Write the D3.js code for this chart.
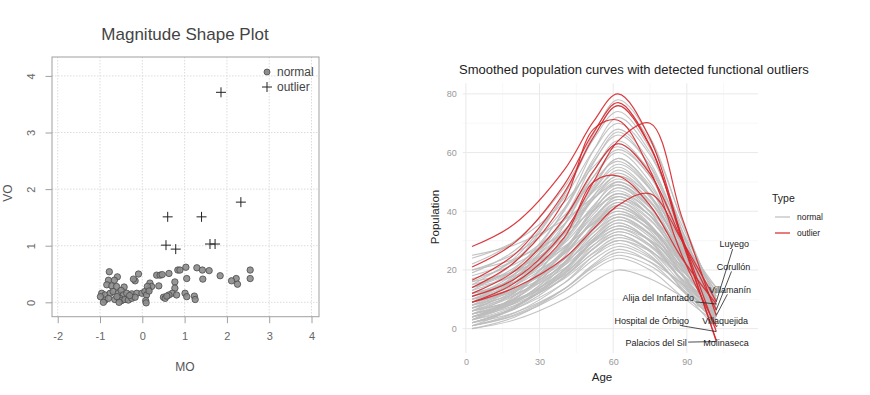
<!DOCTYPE html>
<html><head><meta charset="utf-8">
<script src="https://cdn.jsdelivr.net/npm/d3@7"></script>
<style>body{margin:0;background:#fff}svg{display:block;font-family:"Liberation Sans",Arial,sans-serif}</style>
</head><body><svg id="c" width="870" height="395"></svg>
<script>
// ---------- Left panel: Magnitude Shape Plot ----------
const normalMO = [-0.78,-0.59,-0.09,0.34,0.42,0.63,-0.80,-0.66,-0.17,-0.21,-0.84,-0.72,-0.61,-0.43,0.18,0.22,0.14,0.39,-0.96,-0.88,-0.76,-0.69,-0.57,-0.50,-0.45,-0.37,-0.25,-0.13,-0.01,0.06,0.10,-0.88,-0.80,-0.65,-0.53,-0.49,-0.41,-0.33,-0.25,-0.17,0.08,0.09,0.50,0.54,0.84,0.89,1.03,1.29,1.42,1.58,1.84,2.55,2.55,2.22,2.11,2.25,1.05,1.43,0.77,0.77,0.71,0.63,0.81,1.01,1.05,1.23,1.25,0.58,-0.99,-0.92,-0.55,0.12,0.16,-0.30,-0.60,0.47];
const normalVO = [0.54,0.45,0.50,0.48,0.48,0.51,0.39,0.39,0.38,0.41,0.31,0.29,0.28,0.27,0.34,0.28,0.23,0.29,0.16,0.13,0.16,0.19,0.16,0.21,0.13,0.16,0.15,0.16,0.16,0.19,0.13,0.04,0.07,0.05,0.07,0.03,0.05,0.04,0.07,0.09,0.03,-0.01,0.09,0.07,0.57,0.57,0.62,0.61,0.57,0.56,0.47,0.57,0.42,0.42,0.38,0.32,0.42,0.41,0.36,0.25,0.16,0.13,0.13,0.16,0.10,0.11,0.05,0.11,0.10,0.00,0.00,0.28,0.20,0.12,0.10,0.49];
const outlierMO = [1.86,2.33,0.60,1.40,0.56,0.79,1.60,1.72];
const outlierVO = [3.71,1.77,1.51,1.51,1.01,0.94,1.03,1.03];
const msTicksX = [-2,-1,0,1,2,3,4];
const msTicksY = [0,1,2,3,4];

// ---------- Right panel: smoothed curves ----------
const ages = [2.5,20,40,52,62,75,88,102];
const normalCurves = [
[0,3,10,16,20,17,11,4],[1,4.5,12.5,20,24,20,11,2],[2,5.5,13.5,21,25,21.4,13.4,5],[0,4,13.5,22,27,22.7,13,3],
[3,6.8,15.5,23.5,28,24,15.2,6],[5,8.6,17,24.7,29,24.5,14.5,4],[1,5.4,15.5,24.8,30,25,13.8,2],[4,8,17.5,26,31,26.7,17,7],
[6,9.9,19,27.3,32,26.8,15.2,3],[2,6.7,17.5,27.4,33,28,16.8,5],[8,11.8,20.5,28.5,33,28.5,18.5,8],[3,7.7,18.5,28.4,34,28.6,16.6,4],
[5,9.5,20,29.6,35,29.8,18.2,6],[10,13.8,22.5,30.5,35,30.3,19.9,9],[4,8.8,20,30.2,36,29.9,16.3,2],[7,11.5,22,31.6,37,31.2,18.4,5],
[2,7.4,20,31.5,38,32.4,20,7],[9,13.4,23.5,32.8,38,31.9,18.3,4],[12,16,25.5,34.1,39,33.8,22.2,10],[5,10.3,22.5,33.7,40,33.3,18.5,3],
[6,11.3,23.5,34.7,41,34.7,20.7,6],[14,18,27.5,36.1,41,35.1,21.9,8],[3,8.9,22.5,35,42,35.3,20.5,5],[8,13.3,25.5,36.7,43,35.6,19.2,2],
[11,16,27.5,38.1,44,37.3,22.5,7],[4,10.2,24.5,37.6,45,38.5,24.1,9],[7,12.9,26.5,39,46,38.4,21.6,4],[15,19.8,31,41.2,47,39.6,23.2,6],
[6,12.3,27,40.4,48,39.9,21.9,3],[10,15.9,29.5,42,49,41.6,25.2,8],[3,10,26.5,41.5,50,41.9,23.9,5],[13,18.7,32,44.2,51,43.6,27.2,10],
[8,14.6,30,44.1,52,43.4,24.2,4],[18,23.3,35.5,46.7,53,44.7,26.3,7],[5,12.4,29.5,45.2,54,45.4,26.2,6],[11,17.6,33,47.1,55,45.6,24.8,3],
[9,16,32.5,47.5,56,47.5,28.7,9],[20,25.6,38.5,50.3,57,47.6,26.8,5],[7,14.7,32.5,48.8,58,48.8,28.4,7],[14,20.9,37,51.7,60,49.9,27.5,4],
[10,17.7,35.5,51.8,61,52,32,11],[24,29.7,43,55.2,62,51.9,29.5,6],[6,14.7,35,53.6,64,53,28.6,3],[16,23.5,41,57,66,55.6,32.4,8],
[12,20.4,40,57.9,68,56.7,31.5,5],[19,26.7,44.5,60.8,70,59.2,35.2,10],[9,18.5,40.5,60.7,72,60.1,33.7,6],[22,29.8,48,64.6,74,61.4,33.4,4],
[15,24.2,45.5,65,76,64,37.1,9],[13,22.8,45.5,66.3,78,65.2,36.8,7],[1,4.8,13.5,21.5,26,22.8,15.6,8],[6,9.6,18,25.7,30,26.4,18.4,10],
[9,12.8,21.5,29.5,34,30,21.2,12],[2,7.3,19.5,30.7,37,32.1,21.3,10],[16,19.6,28,35.7,40,35,23.8,12],[1,7.3,22,35.4,43,36.9,23.3,9],
[12,17.1,29,39.9,46,40.1,26.9,13],[4,10.6,26,40.1,48,41.2,26,10],[17,22,33.5,44.1,50,43,27.4,11],[2,7.1,19,29.9,36,29.7,15.7,1],
[10,14.8,26,36.2,42,34.6,18.2,1],[4,9.3,21.5,32.7,39,34.1,23.3,12],[7,12.6,25.5,37.3,44,38.6,26.6,14],[20,23.8,32.5,40.5,45,38.5,24.1,9],
[3,11.3,30.5,48.1,58,47.9,25.5,2],[11,18.8,37,53.6,63,53.8,33.4,12],[8,16.9,37.5,56.4,67,55.3,29.3,2],[14,19.7,33,45.2,52,45.2,30,14],
[5,9,18.5,27.1,32,26.2,13.4,0],[25,28.6,37,44.7,49,41.3,24.1,6]
];
const outlierNames = ["Palacios del Sil","Molinaseca","Hospital de Órbigo","Villaquejida","Villamanín","Corullón","Alija del Infantado","Luyego"];
const outlierCurves = [
[28,35.8,54,70.6,80,64.8,31,-4.4],
[21,29.4,49,66.9,77,62.4,30.1,-3.9],
[16.5,25.4,46.3,65.3,76,62.1,31.3,-1],
[14,22.8,43.3,68,71,54,25,0.7],
[11,17,33,50,64,70,38,4.5],
[12,19.7,37.5,53.8,63,52.8,30.2,6.4],
[9,15.6,31,50,52,42,24,8.4],
[9,14,24,34,42,46,30,9.2]
];
// label positions (Age, Population) for the repelled labels
const labelAge = [77.5,106,75.7,105.6,107.6,109,78.4,109.3];
const labelPop = [-4.8,-4.8,2.7,2.7,13.4,21.2,10.4,28.8];
const fdTicksX = [0,30,60,90];
const fdTicksY = [0,20,40,60,80];
const fdMinorX = [15,45,75,105];
const fdMinorY = [10,30,50,70];

const svg = d3.select("#c");

// ===== Left panel =====
const L = {l:52, r:319, t:57, b:316.7};
const xL = d3.scaleLinear().domain([-2.135,4.177]).range([L.l,L.r]);
const yL = d3.scaleLinear().domain([-0.254,4.334]).range([L.b,L.t]);
const gL = svg.append("g");
gL.append("g").selectAll("line").data(msTicksX).join("line")
  .attr("x1",d=>xL(d)).attr("x2",d=>xL(d)).attr("y1",L.t).attr("y2",L.b)
  .attr("stroke","#dcdcdc").attr("stroke-dasharray","1.5,1.5");
gL.append("g").selectAll("line").data(msTicksY).join("line")
  .attr("y1",d=>yL(d)).attr("y2",d=>yL(d)).attr("x1",L.l).attr("x2",L.r)
  .attr("stroke","#dcdcdc").attr("stroke-dasharray","1.5,1.5");
gL.append("rect").attr("x",L.l).attr("y",L.t).attr("width",L.r-L.l).attr("height",L.b-L.t)
  .attr("fill","none").attr("stroke","#a0a0a0");
const axB = gL.append("g").attr("transform",`translate(0,${L.b})`)
  .call(d3.axisBottom(xL).tickValues(msTicksX).tickSize(6.5).tickPadding(9).tickFormat(d=>d<0?"-"+Math.abs(d):d));
axB.select(".domain").remove();
axB.selectAll("line").attr("stroke","#a0a0a0");
axB.selectAll("text").attr("fill","#666").attr("font-size",11).attr("font-family","Liberation Sans");
const axLft = gL.append("g").attr("transform",`translate(${L.l},0)`)
  .call(d3.axisLeft(yL).tickValues(msTicksY).tickSize(6.5).tickPadding(0).tickFormat(d3.format("d")));
axLft.select(".domain").remove();
axLft.selectAll("line").attr("stroke","#a0a0a0");
axLft.selectAll("text").attr("fill","#666").attr("font-size",11).attr("font-family","Liberation Sans")
  .attr("text-anchor","middle").attr("x",0).attr("dy",0)
  .attr("transform","translate(-21,0) rotate(-90)").attr("y",4);
const normals = normalMO.map((m,i)=>({m, v:normalVO[i]}));
gL.append("g").selectAll("circle").data(normals).join("circle")
  .attr("cx",d=>xL(d.m)).attr("cy",d=>yL(d.v)).attr("r",3.2)
  .attr("fill","#8c8c8c").attr("stroke","#4a4a4a").attr("stroke-width",0.8).attr("fill-opacity",0.9);
const outs = outlierMO.map((m,i)=>({m, v:outlierVO[i]}));
gL.append("g").selectAll("path").data(outs).join("path")
  .attr("d",d=>`M${xL(d.m)-5},${yL(d.v)}h10M${xL(d.m)},${yL(d.v)-5}v10`)
  .attr("stroke","#222").attr("stroke-width",1).attr("fill","none");
gL.append("text").attr("x",185).attr("y",40).attr("text-anchor","middle").attr("font-size",17)
  .attr("fill","#444").text("Magnitude Shape Plot");
gL.append("text").attr("x",185).attr("y",371).attr("text-anchor","middle").attr("font-size",12)
  .attr("fill","#555").text("MO");
gL.append("text").attr("transform","translate(12,193) rotate(-90)").attr("text-anchor","middle").attr("font-size",12)
  .attr("fill","#555").text("VO");
gL.append("circle").attr("cx",267).attr("cy",72).attr("r",3).attr("fill","#8c8c8c").attr("stroke","#4a4a4a").attr("stroke-width",0.8);
gL.append("text").attr("x",277).attr("y",76).attr("font-size",12).attr("fill","#444").text("normal");
gL.append("path").attr("d","M262,87h10M267,82v10").attr("stroke","#222");
gL.append("text").attr("x",277).attr("y",91).attr("font-size",12).attr("fill","#444").text("outlier");

// ===== Right panel =====
const R = {l:462.7, r:758, t:83.3, b:353};
const xR = d3.scaleLinear().domain([-1.3,119]).range([R.l,R.r]);
const yR = d3.scaleLinear().domain([-8.3,83.6]).range([R.b,R.t]);
const gR = svg.append("g");
gR.append("g").selectAll("line").data(fdMinorX).join("line")
  .attr("x1",d=>xR(d)).attr("x2",d=>xR(d)).attr("y1",R.t).attr("y2",R.b).attr("stroke","#f3f3f3").attr("stroke-width",0.7);
gR.append("g").selectAll("line").data(fdMinorY).join("line")
  .attr("y1",d=>yR(d)).attr("y2",d=>yR(d)).attr("x1",R.l).attr("x2",R.r).attr("stroke","#f3f3f3").attr("stroke-width",0.7);
gR.append("g").selectAll("line").data(fdTicksX).join("line")
  .attr("x1",d=>xR(d)).attr("x2",d=>xR(d)).attr("y1",R.t).attr("y2",R.b).attr("stroke","#e9e9e9").attr("stroke-width",1);
gR.append("g").selectAll("line").data(fdTicksY).join("line")
  .attr("y1",d=>yR(d)).attr("y2",d=>yR(d)).attr("x1",R.l).attr("x2",R.r).attr("stroke","#e9e9e9").attr("stroke-width",1);

const line = d3.line().x((d,i)=>xR(ages[i])).y(d=>yR(d)).curve(d3.curveCatmullRom.alpha(0.5));
gR.append("g").selectAll("path").data(normalCurves).join("path")
  .attr("d",line).attr("fill","none").attr("stroke","#bdbdbd").attr("stroke-width",1.1).attr("stroke-opacity",0.9);
gR.append("g").selectAll("path").data(outlierCurves).join("path")
  .attr("d",line).attr("fill","none").attr("stroke","#d7262b").attr("stroke-width",1.2).attr("stroke-opacity",0.9);

const axRB = gR.append("g").attr("transform",`translate(0,${R.b})`)
  .call(d3.axisBottom(xR).tickValues(fdTicksX).tickSize(0).tickPadding(6));
axRB.select(".domain").remove();
axRB.selectAll("text").attr("fill","#999").attr("font-size",9).attr("font-family","Liberation Sans");
const axRL = gR.append("g").attr("transform",`translate(${R.l},0)`)
  .call(d3.axisLeft(yR).tickValues(fdTicksY).tickSize(0).tickPadding(6));
axRL.select(".domain").remove();
axRL.selectAll("text").attr("fill","#999").attr("font-size",9).attr("font-family","Liberation Sans");
gR.append("text").attr("x",602).attr("y",381).attr("text-anchor","middle").attr("font-size",11.5).attr("fill","#222").text("Age");
gR.append("text").attr("transform","translate(439,217) rotate(-90)").attr("text-anchor","middle").attr("font-size",11.5).attr("fill","#222").text("Population");
gR.append("text").attr("x",459).attr("y",74).attr("font-size",13).attr("fill","#222").text("Smoothed population curves with detected functional outliers");

const lab = gR.append("g");
outlierNames.forEach((n,i)=>{
  const ax = xR(ages[ages.length-1]), ay = yR(outlierCurves[i][ages.length-1]);
  const lx = xR(labelAge[i]), ly = yR(labelPop[i]);
  const t = lab.append("text").attr("x",lx).attr("y",ly+3.2).attr("text-anchor","middle")
    .attr("font-size",9).attr("fill","#222").text(n);
  const bb = t.node().getBBox();
  const hw = bb.width/2+1.5, hh = bb.height/2;
  const dx = ax-lx, dy = ay-ly;
  const s = Math.min(Math.abs(dx)>0?hw/Math.abs(dx):Infinity, Math.abs(dy)>0?hh/Math.abs(dy):Infinity);
  if (s < 1) {
    lab.insert("line","text").attr("x1",lx+dx*s).attr("y1",ly+dy*s).attr("x2",ax).attr("y2",ay)
      .attr("stroke","#222").attr("stroke-width",0.8);
  }
});

const lg = gR.append("g");
lg.append("text").attr("x",772).attr("y",202).attr("font-size",10.5).attr("fill","#222").text("Type");
lg.append("line").attr("x1",775).attr("x2",790).attr("y1",217).attr("y2",217).attr("stroke","#bdbdbd").attr("stroke-width",1.2);
lg.append("line").attr("x1",775).attr("x2",790).attr("y1",233).attr("y2",233).attr("stroke","#d7262b").attr("stroke-width",1.2);
lg.append("text").attr("x",797).attr("y",220).attr("font-size",8.5).attr("fill","#222").text("normal");
lg.append("text").attr("x",797).attr("y",236).attr("font-size",8.5).attr("fill","#222").text("outlier");
</script></body></html>
